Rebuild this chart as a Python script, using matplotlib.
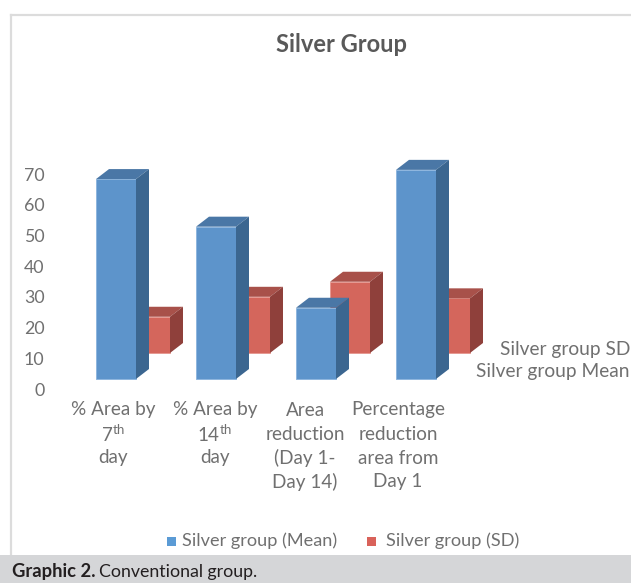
import matplotlib
matplotlib.use("Agg")
import matplotlib.pyplot as plt
from matplotlib.patches import Polygon, Rectangle
from matplotlib.transforms import blended_transform_factory
from matplotlib.lines import Line2D

plt.rcParams['font.family'] = ['Lato', 'DejaVu Sans']
plt.rcParams['mathtext.fontset'] = 'custom'
plt.rcParams['mathtext.rm'] = 'Lato'
plt.rcParams['mathtext.it'] = 'Lato'

# ---- data ----
categories = [
    ["% Area by", "7$^{\\mathrm{th}}$", "day"],
    ["% Area by", "14$^{\\mathrm{th}}$", "day"],
    ["Area", "reduction", "(Day 1-", "Day 14)"],
    ["Percentage", "reduction", "area from", "Day 1"],
]
mean_values = [65.1, 49.6, 23.2, 68.1]
sd_values = [11.8, 18.3, 23.2, 17.8]
y_ticks = [0, 10, 20, 30, 40, 50, 60, 70]
series_names = ["Silver group (Mean)", "Silver group (SD)"]
depth_names = ["Silver group SD", "Silver group Mean"]

W, H = 631, 583
fig = plt.figure(figsize=(W / 100, H / 100), dpi=100)
TXT = '#707070'

def fy(px):
    return 1 - px / H

# chart frame and caption band
fig.add_artist(Rectangle((0, 0), 1, 1, transform=fig.transFigure,
                         facecolor='white', edgecolor='none', zorder=-10))
fig.add_artist(Line2D([11 / W, 1], [fy(14.8), fy(14.8)], transform=fig.transFigure,
                      color='#dcdcdc', lw=1.6, zorder=-5))
fig.add_artist(Line2D([11 / W, 11 / W], [fy(14.8), fy(555)], transform=fig.transFigure,
                      color='#dcdcdc', lw=1.6, zorder=-5))
fig.add_artist(Rectangle((0, 0), 1, fy(555), transform=fig.transFigure,
                         facecolor='#d5d6d8', edgecolor='none', zorder=-4))
cap_y = fy(572)
t1 = fig.text(12 / W, cap_y, "Graphic 2.", fontsize=13.2, fontweight='bold',
              color='#231f20', va='center', ha='left')
fig.canvas.draw()
bb = t1.get_window_extent()
fig.text((bb.x1 + 4) / W, cap_y, "Conventional group.", fontsize=12.8,
         color='#231f20', va='center', ha='left')

# title
fig.text(342 / W, fy(45), "Silver Group", fontsize=17, fontweight='bold',
         color='#595959', ha='center', va='center')

# value axis: 0 at y=389 px, 3.071 px per unit; categories 100 px apart
left_px = 50
px_per_unit = 3.071
zero_px = 389
ax = fig.add_axes([left_px / W, 0, 1 - left_px / W, 1])
ax.set_xlim((left_px - 116) / 100, (W - 116) / 100)
ax.set_ylim((zero_px - H) / px_per_unit, zero_px / px_per_unit)
ax.set_facecolor('none')
for s in ax.spines.values():
    s.set_visible(False)
ax.set_xticks([])
ax.set_yticks(y_ticks)
ax.tick_params(axis='y', length=0, pad=4, labelsize=12.8, labelcolor=TXT)

bar_w = 0.40
depth_dx = 0.13
depth_dy = 10 / px_per_unit

def draw_bar(x_center, base, value, front, top, side, edge, z):
    x0, x1 = x_center - bar_w / 2, x_center + bar_w / 2
    y0, y1 = base, base + value
    ax.add_patch(Polygon([(x0, y0), (x1, y0), (x1, y1), (x0, y1)], closed=True,
                         facecolor=front, edgecolor=edge, lw=0.7, zorder=z))
    ax.add_patch(Polygon([(x0, y1), (x1, y1), (x1 + depth_dx, y1 + depth_dy),
                          (x0 + depth_dx, y1 + depth_dy)], closed=True,
                         facecolor=top, edgecolor='none', zorder=z))
    ax.add_patch(Polygon([(x1, y0), (x1 + depth_dx, y0 + depth_dy),
                          (x1 + depth_dx, y1 + depth_dy), (x1, y1)], closed=True,
                         facecolor=side, edgecolor='none', zorder=z))

# back row (SD) then front row (Mean)
back_shift = 0.34
back_base = (zero_px - 353) / px_per_unit
front_base = (zero_px - 379) / px_per_unit
for i, v in enumerate(sd_values):
    draw_bar(i + back_shift, back_base, v, '#d4665c', '#a8514a', '#8f403b', '#e59a93', 2)
for i, v in enumerate(mean_values):
    draw_bar(i, front_base, v, '#5d94cb', '#4a77a6', '#3b6690', '#8fb6de', 3)

# category labels
trans_lbl = blended_transform_factory(ax.transData, fig.transFigure)
label_nudge = [-0.03, -0.01, -0.11, -0.18]
line_px = [410, 434, 458, 482]
for i, lines in enumerate(categories):
    for j, line in enumerate(lines):
        ax.text(i + label_nudge[i], fy(line_px[j]), line, transform=trans_lbl,
                ha='center', va='center', fontsize=13.6, color=TXT)

# depth-axis labels
fig.text(630 / W, fy(349), depth_names[0], ha='right', va='center',
         fontsize=13.8, color=TXT)
fig.text(630 / W, fy(372), depth_names[1], ha='right', va='center',
         fontsize=13.8, color=TXT)

# legend
leg_y = fy(541)
fig.add_artist(Rectangle((167 / W, leg_y - 4.5 / H), 9 / W, 9 / H, transform=fig.transFigure,
                         facecolor='#5b9bd5', edgecolor='none'))
fig.text(182 / W, leg_y, series_names[0], ha='left', va='center', fontsize=13.1, color=TXT)
fig.add_artist(Rectangle((367 / W, leg_y - 4.5 / H), 9 / W, 9 / H, transform=fig.transFigure,
                         facecolor='#d9625a', edgecolor='none'))
fig.text(386 / W, leg_y, series_names[1], ha='left', va='center', fontsize=13.1, color=TXT)

fig.savefig("out.png", dpi=100)
